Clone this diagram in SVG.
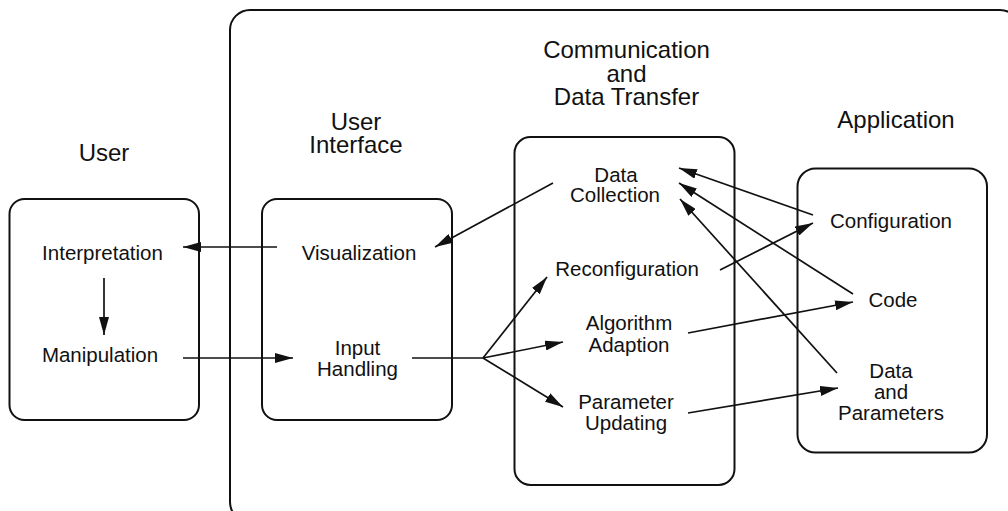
<svg xmlns="http://www.w3.org/2000/svg" width="1008" height="511" viewBox="0 0 1008 511">
  <style>
    .box { fill: none; stroke: #111; stroke-width: 2; }
    .conn { fill: none; stroke: #111; stroke-width: 1.7; }
    .t { font-family: "Liberation Sans", Arial, sans-serif; font-size: 20.5px; fill: #111; text-anchor: middle; }
    .h { font-family: "Liberation Sans", Arial, sans-serif; font-size: 24px; fill: #111; text-anchor: middle; }
  </style>
  <defs>
    <marker id="arrow" viewBox="0 0 18 10" refX="18" refY="5" markerWidth="18" markerHeight="10" markerUnits="userSpaceOnUse" orient="auto">
      <path d="M0,0 L18,5 L0,10 z" fill="#111"/>
    </marker>
  </defs>
  <rect width="1008" height="511" fill="#fff"/>

  <g id="system">
    <rect class="box" x="230" y="10" width="790" height="512" rx="20"/>
  </g>

  <g id="user">
    <text class="h" x="104" y="161">User</text>
    <rect class="box" x="9.5" y="199" width="189.5" height="221" rx="15"/>
  </g>
  <g id="interpretation"><text class="t" x="102.5" y="260">Interpretation</text></g>
  <g id="manipulation"><text class="t" x="100" y="362">Manipulation</text></g>

  <g id="user-interface">
    <text class="h" x="356" y="130">User</text>
    <text class="h" x="356" y="153">Interface</text>
    <rect class="box" x="262" y="199" width="190" height="221" rx="15"/>
  </g>
  <g id="visualization"><text class="t" x="359" y="260">Visualization</text></g>
  <g id="input-handling">
    <text class="t" x="357.5" y="355">Input</text>
    <text class="t" x="357.5" y="376">Handling</text>
  </g>

  <g id="communication">
    <text class="h" x="626.5" y="58">Communication</text>
    <text class="h" x="626.5" y="82">and</text>
    <text class="h" x="626.5" y="105">Data Transfer</text>
    <rect class="box" x="514.5" y="137" width="220" height="348" rx="16"/>
  </g>
  <g id="data-collection">
    <text class="t" x="616" y="182">Data</text>
    <text class="t" x="615" y="202">Collection</text>
  </g>
  <g id="reconfiguration"><text class="t" x="627" y="276">Reconfiguration</text></g>
  <g id="algorithm-adaption">
    <text class="t" x="629" y="330">Algorithm</text>
    <text class="t" x="629" y="351.5">Adaption</text>
  </g>
  <g id="parameter-updating">
    <text class="t" x="626" y="409">Parameter</text>
    <text class="t" x="626" y="430">Updating</text>
  </g>

  <g id="application">
    <text class="h" x="896" y="128">Application</text>
    <rect class="box" x="797.5" y="168.5" width="189.5" height="284" rx="18"/>
  </g>
  <g id="configuration"><text class="t" x="891" y="228">Configuration</text></g>
  <g id="code"><text class="t" x="893" y="307">Code</text></g>
  <g id="data-parameters">
    <text class="t" x="891" y="378">Data</text>
    <text class="t" x="891" y="398.5">and</text>
    <text class="t" x="891" y="419.5">Parameters</text>
  </g>

  <g id="connectors">
    <line class="conn" x1="277" y1="247" x2="183" y2="247" marker-end="url(#arrow)"/>
    <line class="conn" x1="104" y1="278" x2="104" y2="335" marker-end="url(#arrow)"/>
    <line class="conn" x1="183" y1="358" x2="293" y2="358" marker-end="url(#arrow)"/>
    <line class="conn" x1="553" y1="183" x2="435" y2="247" marker-end="url(#arrow)"/>
    <line class="conn" x1="412" y1="358" x2="483" y2="358"/>
    <line class="conn" x1="483" y1="358" x2="547" y2="277" marker-end="url(#arrow)"/>
    <line class="conn" x1="483" y1="358" x2="563" y2="342" marker-end="url(#arrow)"/>
    <line class="conn" x1="483" y1="358" x2="563" y2="407" marker-end="url(#arrow)"/>
    <line class="conn" x1="813" y1="215" x2="679" y2="168" marker-end="url(#arrow)"/>
    <line class="conn" x1="853" y1="294" x2="679" y2="183" marker-end="url(#arrow)"/>
    <line class="conn" x1="837" y1="373" x2="680" y2="199" marker-end="url(#arrow)"/>
    <line class="conn" x1="720" y1="270" x2="813" y2="223" marker-end="url(#arrow)"/>
    <line class="conn" x1="688" y1="333" x2="853" y2="302" marker-end="url(#arrow)"/>
    <line class="conn" x1="688" y1="413" x2="838" y2="388" marker-end="url(#arrow)"/>
  </g>
</svg>
